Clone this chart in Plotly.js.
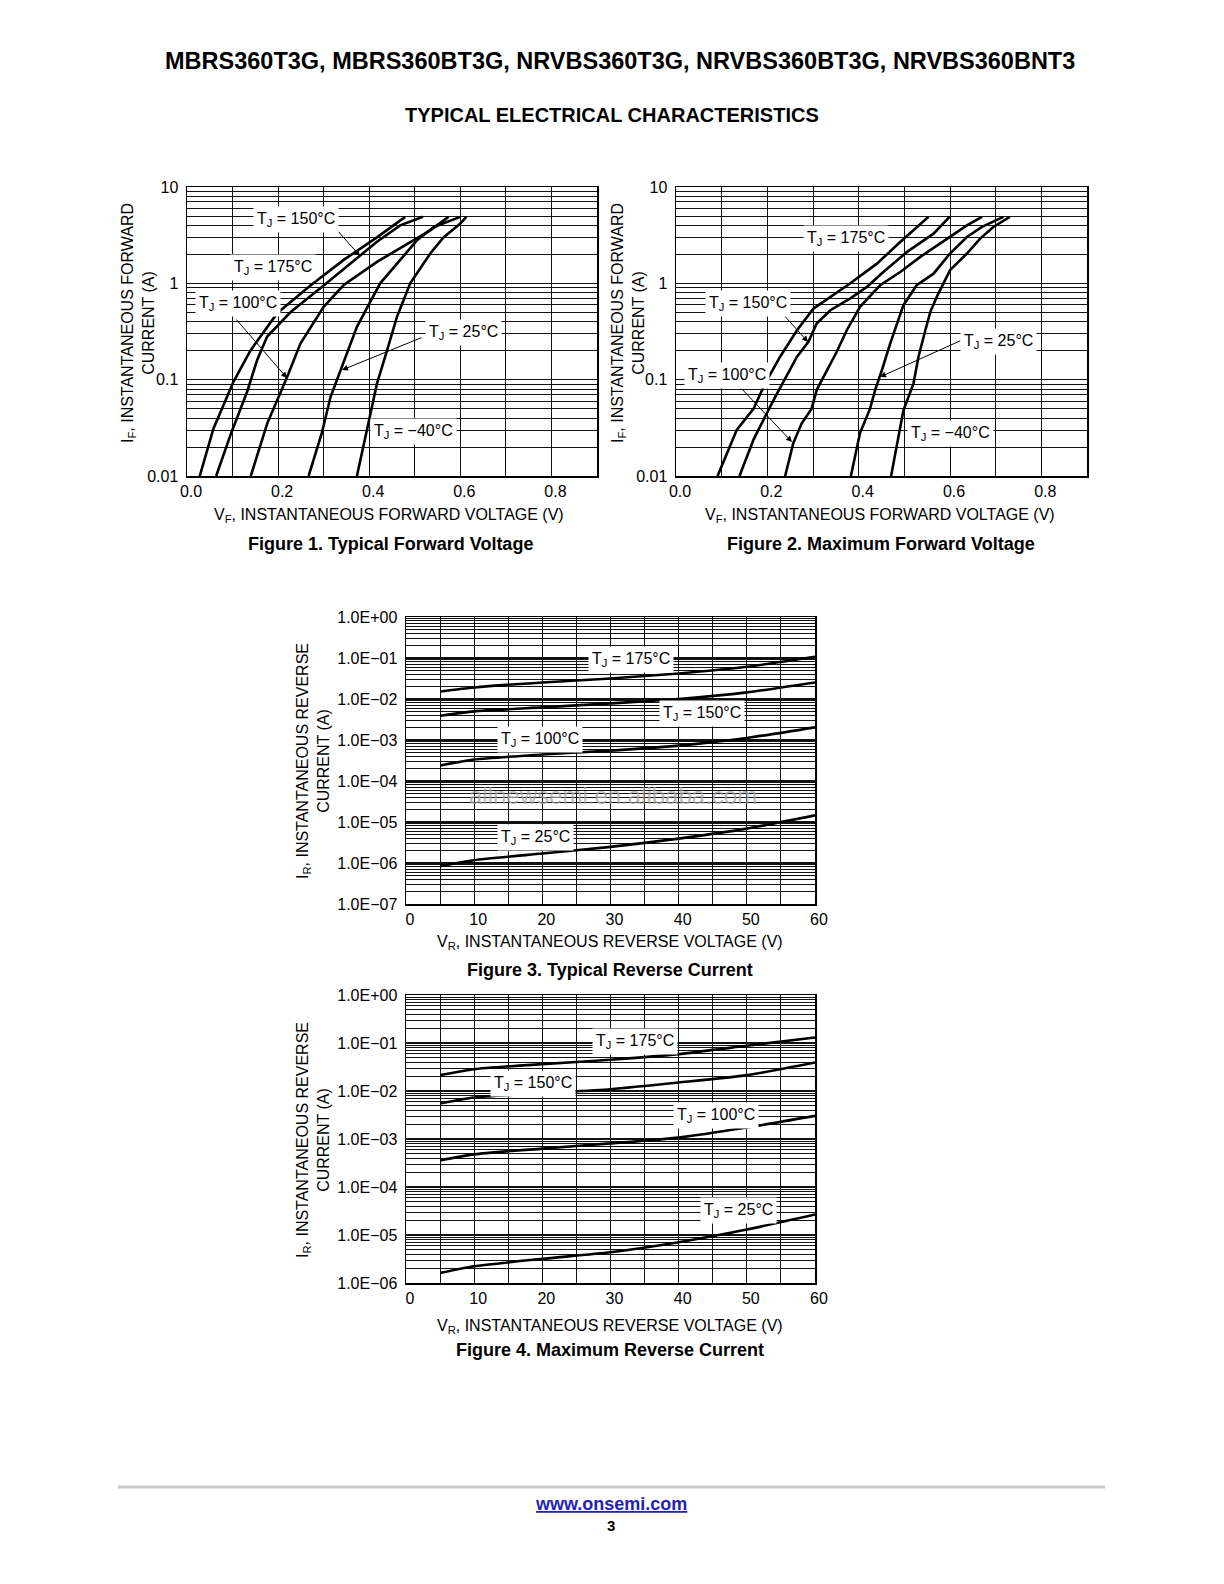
<!DOCTYPE html>
<html>
<head>
<meta charset="utf-8">
<script src="https://cdn.plot.ly/plotly-3.0.1.min.js"></script>
<style>
  html, body { margin: 0; padding: 0; background: #fff; }
  #page { width: 1224px; height: 1584px; }
</style>
</head>
<body>
<div id="page"></div>
<script>
// Figure 1 - typical forward voltage (V, A)
var vf175a = [0.028, 0.058, 0.102, 0.139, 0.198, 0.22, 0.271, 0.344, 0.417, 0.479];
var if175a = [0.01, 0.031, 0.095, 0.2, 0.49, 0.6, 0.95, 1.75, 3.0, 4.9];
var vf150a = [0.064, 0.097, 0.132, 0.154, 0.176, 0.227, 0.30, 0.359, 0.417, 0.468, 0.518];
var if150a = [0.01, 0.028, 0.075, 0.16, 0.28, 0.5, 0.95, 1.6, 2.7, 4.0, 4.9];
var vf100a = [0.14, 0.176, 0.22, 0.249, 0.30, 0.344, 0.417, 0.49, 0.534, 0.574];
var if100a = [0.01, 0.035, 0.107, 0.237, 0.57, 0.96, 1.67, 2.7, 3.55, 4.9];
var vf25a = [0.267, 0.296, 0.315, 0.337, 0.373, 0.424, 0.468, 0.505, 0.542, 0.60];
var if25a = [0.01, 0.028, 0.066, 0.126, 0.353, 1.0, 1.73, 2.8, 3.85, 4.9];
var vfm40a = [0.373, 0.395, 0.417, 0.439, 0.461, 0.49, 0.534, 0.563, 0.60, 0.613];
var ifm40a = [0.01, 0.031, 0.091, 0.2, 0.45, 1.0, 2.04, 3.0, 4.17, 4.9];

// Figure 2 - maximum forward voltage
var vf175b = [0.091, 0.133, 0.170, 0.195, 0.228, 0.265, 0.301, 0.345, 0.381, 0.44, 0.491, 0.553];
var if175b = [0.01, 0.030, 0.050, 0.091, 0.173, 0.326, 0.547, 0.752, 0.995, 1.6, 2.69, 4.9];
var vf150b = [0.139, 0.170, 0.199, 0.217, 0.265, 0.29, 0.308, 0.338, 0.381, 0.418, 0.454, 0.506, 0.564, 0.599];
var if150b = [0.01, 0.024, 0.045, 0.066, 0.173, 0.247, 0.383, 0.526, 0.695, 0.918, 1.31, 2.12, 3.28, 4.9];
var vf100b = [0.239, 0.257, 0.275, 0.297, 0.308, 0.352, 0.374, 0.403, 0.447, 0.491, 0.535, 0.593, 0.637, 0.670];
var if100b = [0.01, 0.022, 0.035, 0.050, 0.078, 0.195, 0.326, 0.57, 0.955, 1.31, 1.88, 2.91, 4.0, 4.9];
var vf25b = [0.383, 0.403, 0.425, 0.436, 0.451, 0.469, 0.498, 0.527, 0.564, 0.60, 0.637, 0.670, 0.717];
var if25b = [0.01, 0.028, 0.050, 0.078, 0.126, 0.237, 0.593, 0.955, 1.26, 2.04, 3.03, 3.85, 4.9];
var vfm40b = [0.471, 0.484, 0.498, 0.52, 0.531, 0.546, 0.557, 0.571, 0.60, 0.637, 0.666, 0.695, 0.731];
var ifm40b = [0.01, 0.022, 0.048, 0.091, 0.173, 0.326, 0.506, 0.723, 1.37, 2.04, 2.91, 3.85, 4.9];

// Figures 3 and 4 - reverse current (V, A)
var vr = [5, 10, 20, 30, 40, 50, 60];
var ir175c = [0.0153, 0.0191, 0.0253, 0.0317, 0.0419, 0.0609, 0.107];
var ir150c = [0.0039, 0.005, 0.00625, 0.0078, 0.010, 0.0145, 0.0253];
var ir100c = [2.39e-4, 3.34e-4, 4.42e-4, 5.52e-4, 7.3e-4, 1.12e-3, 2.04e-3];
var ir25c = [8.4e-7, 1.17e-6, 1.7e-6, 2.47e-6, 3.93e-6, 6.9e-6, 1.45e-5];
var ir175d = [0.0214, 0.0285, 0.0363, 0.0447, 0.0586, 0.0875, 0.1306];
var ir150d = [0.00547, 0.0073, 0.009, 0.0109, 0.015, 0.0214, 0.0393];
var ir100d = [3.59e-4, 4.79e-4, 6.3e-4, 8.1e-4, 1.07e-3, 1.73e-3, 3.03e-3];
var ir25d = [1.62e-6, 2.23e-6, 3.18e-6, 4.38e-6, 7.08e-6, 1.3e-5, 2.68e-5];

// tick labels
var fwdTickVals = [0.01, 0.1, 1, 10];
var fwdTickText = ["0.01", "0.1", "1", "10"];
var revTickVals3 = [1e-7, 1e-6, 1e-5, 1e-4, 1e-3, 1e-2, 1e-1, 1];
var revTickText3 = ["1.0E\u221207", "1.0E\u221206", "1.0E\u221205", "1.0E\u221204", "1.0E\u221203", "1.0E\u221202", "1.0E\u221201", "1.0E+00"];
var revTickVals4 = [1e-6, 1e-5, 1e-4, 1e-3, 1e-2, 1e-1, 1];
var revTickText4 = ["1.0E\u221206", "1.0E\u221205", "1.0E\u221204", "1.0E\u221203", "1.0E\u221202", "1.0E\u221201", "1.0E+00"];

var FONT = "Liberation Sans, Arial, Helvetica, sans-serif";
var W = 1224, H = 1584;

function px(x) { return x / W; }
function py(y) { return 1 - y / H; }

function logMinor(lo, hi) {
    var vals = [];
    for (var e = lo; e < hi; e++) {
        for (var k = 2; k <= 9; k++) vals.push(k * Math.pow(10, e));
    }
    return vals;
}

function curve(x, y, xa, ya, smooth) {
    return {
        type: "scatter", mode: "lines", x: x, y: y,
        xaxis: xa, yaxis: ya, hoverinfo: "skip",
        line: { color: "#000", width: 2.6, shape: smooth ? "spline" : "linear", smoothing: 0.6 }
    };
}

var traces = [
    curve(vf175a, if175a, "x", "y"),
    curve(vf150a, if150a, "x", "y"),
    curve(vf100a, if100a, "x", "y"),
    curve(vf25a, if25a, "x", "y"),
    curve(vfm40a, ifm40a, "x", "y"),
    curve(vf175b, if175b, "x2", "y2"),
    curve(vf150b, if150b, "x2", "y2"),
    curve(vf100b, if100b, "x2", "y2"),
    curve(vf25b, if25b, "x2", "y2"),
    curve(vfm40b, ifm40b, "x2", "y2"),
    curve(vr, ir175c, "x3", "y3", true),
    curve(vr, ir150c, "x3", "y3", true),
    curve(vr, ir100c, "x3", "y3", true),
    curve(vr, ir25c, "x3", "y3", true),
    curve(vr, ir175d, "x4", "y4", true),
    curve(vr, ir150d, "x4", "y4", true),
    curve(vr, ir100d, "x4", "y4", true),
    curve(vr, ir25d, "x4", "y4", true)
];

function xAxisFwd(left, right, anchor) {
    return {
        domain: [px(left), px(right)], anchor: anchor,
        range: [0, 0.9], tick0: 0, dtick: 0.2, tickformat: ".1f",
        showgrid: true, gridcolor: "#111", gridwidth: 1,
        minor: { dtick: 0.1, showgrid: true, gridcolor: "#111", gridwidth: 1 },
        showline: true, mirror: true, linecolor: "#000", linewidth: 1.5,
        ticks: "", zeroline: false, ticklabelshift: 4,
        tickfont: { family: FONT, size: 16, color: "#000" }
    };
}

function yAxisLog(top, bottom, anchor, lo, hi, vals, text) {
    return {
        domain: [py(bottom), py(top)], anchor: anchor, type: "log",
        range: [lo, hi], tickmode: "array", tickvals: vals, ticktext: text,
        showgrid: true, gridcolor: "#111", gridwidth: 1.4,
        minor: { tickvals: logMinor(lo, hi), showgrid: true, gridcolor: "#111", gridwidth: 1 },
        showline: true, mirror: true, linecolor: "#000", linewidth: 1.5,
        ticks: "", zeroline: false, ticklabelstandoff: 4,
        tickfont: { family: FONT, size: 16, color: "#000" }
    };
}

function xAxisRev(top, bottom, anchor) {
    return {
        domain: [px(406), px(815)], anchor: anchor,
        range: [0, 60], tickmode: "array", tickvals: [0, 10, 20, 30, 40, 50, 60],
        showgrid: true, gridcolor: "#111", gridwidth: 1,
        minor: { tickvals: [5, 15, 25, 35, 45, 55], showgrid: true, gridcolor: "#111", gridwidth: 1 },
        showline: true, mirror: true, linecolor: "#000", linewidth: 1.5,
        ticks: "", zeroline: false, ticklabelshift: 4,
        tickfont: { family: FONT, size: 16, color: "#000" }
    };
}

function txt(x, y, text, size, opts) {
    var a = {
        xref: "paper", yref: "paper", x: px(x), y: py(y),
        xanchor: "center", yanchor: "middle", showarrow: false,
        text: text, font: { family: FONT, size: size, color: "#000" }
    };
    for (var k in opts) a[k] = opts[k];
    return a;
}

function label(x, y, text) {
    return txt(x, y, text, 16, { bgcolor: "#fff", borderpad: 3 });
}

function arrow(tailX, tailY, tipX, tipY) {
    return {
        xref: "paper", yref: "paper", x: px(tipX), y: py(tipY),
        ax: tailX - tipX, ay: tailY - tipY, text: "",
        showarrow: true, arrowhead: 2, arrowsize: 1.2, arrowwidth: 1, arrowcolor: "#000"
    };
}

var TJ = "T<sub>J</sub> = ";

var annotations = [
    txt(620, 61, "<b>MBRS360T3G, MBRS360BT3G, NRVBS360T3G, NRVBS360BT3G, NRVBS360BNT3</b>", 23.5),
    txt(612, 115, "<b>TYPICAL ELECTRICAL CHARACTERISTICS</b>", 20),

    // Figure 1
    txt(138, 323, "I<sub>F</sub>, INSTANTANEOUS FORWARD<br>CURRENT (A)", 16, { textangle: -90 }),
    txt(389, 515, "V<sub>F</sub>, INSTANTANEOUS FORWARD VOLTAGE (V)", 16),
    txt(390, 544, "<b>Figure 1. Typical Forward Voltage</b>", 18),
    arrow(337, 230, 360, 256),
    arrow(235, 318, 287, 378),
    arrow(423, 337, 342, 370),
    label(296, 220, TJ + "150\u00b0C"),
    label(273, 267, TJ + "175\u00b0C"),
    label(238, 303, TJ + "100\u00b0C"),
    label(463, 333, TJ + "25\u00b0C"),
    label(413, 432, TJ + "\u221240\u00b0C"),

    // Figure 2
    txt(628, 323, "I<sub>F</sub>, INSTANTANEOUS FORWARD<br>CURRENT (A)", 16, { textangle: -90 }),
    txt(880, 515, "V<sub>F</sub>, INSTANTANEOUS FORWARD VOLTAGE (V)", 16),
    txt(881, 544, "<b>Figure 2. Maximum Forward Voltage</b>", 18),
    arrow(782, 313, 808, 342),
    arrow(740, 387, 792, 442),
    arrow(962, 340, 880, 377),
    label(846, 238, TJ + "175\u00b0C"),
    label(748, 303, TJ + "150\u00b0C"),
    label(727, 376, TJ + "100\u00b0C"),
    label(998, 341, TJ + "25\u00b0C"),
    label(950, 433, TJ + "\u221240\u00b0C"),

    // Figure 3
    txt(613, 795, "allnewsemi.en.alibaba.com", 24, { font: { family: FONT, size: 24, color: "rgba(165,165,165,0.75)" } }),
    txt(313, 761, "I<sub>R</sub>, INSTANTANEOUS REVERSE<br>CURRENT (A)", 16, { textangle: -90 }),
    txt(610, 942, "V<sub>R</sub>, INSTANTANEOUS REVERSE VOLTAGE (V)", 16),
    txt(610, 970, "<b>Figure 3. Typical Reverse Current</b>", 18),
    label(631, 659, TJ + "175\u00b0C"),
    label(702, 714, TJ + "150\u00b0C"),
    label(540, 740, TJ + "100\u00b0C"),
    label(535, 837, TJ + "25\u00b0C"),

    // Figure 4
    txt(313, 1140, "I<sub>R</sub>, INSTANTANEOUS REVERSE<br>CURRENT (A)", 16, { textangle: -90 }),
    txt(610, 1326, "V<sub>R</sub>, INSTANTANEOUS REVERSE VOLTAGE (V)", 16),
    txt(610, 1350, "<b>Figure 4. Maximum Reverse Current</b>", 18),
    label(635, 1041, TJ + "175\u00b0C"),
    label(533, 1083, TJ + "150\u00b0C"),
    label(716, 1115, TJ + "100\u00b0C"),
    label(738, 1210, TJ + "25\u00b0C"),

    // footer
    txt(611, 1504, "<b><u>www.onsemi.com</u></b>", 18, { font: { family: FONT, size: 18, color: "#2222b8" } }),
    txt(611, 1525, "<b>3</b>", 15)
];

var layout = {
    width: W, height: H,
    margin: { l: 0, r: 0, t: 0, b: 0 },
    paper_bgcolor: "#fff", plot_bgcolor: "#fff",
    showlegend: false,
    xaxis: xAxisFwd(187, 597, "y"),
    yaxis: yAxisLog(187, 476, "x", -2, 1, fwdTickVals, fwdTickText),
    xaxis2: xAxisFwd(676, 1087, "y2"),
    yaxis2: yAxisLog(187, 476, "x2", -2, 1, fwdTickVals, fwdTickText),
    xaxis3: xAxisRev(617, 904, "y3"),
    yaxis3: yAxisLog(617, 904, "x3", -7, 0, revTickVals3, revTickText3),
    xaxis4: xAxisRev(995, 1283, "y4"),
    yaxis4: yAxisLog(995, 1283, "x4", -6, 0, revTickVals4, revTickText4),
    annotations: annotations,
    shapes: [
        { type: "line", xref: "paper", yref: "paper", x0: px(118), x1: px(1105), y0: py(1487), y1: py(1487),
          line: { color: "#c8c8c8", width: 3 } }
    ]
};

Plotly.newPlot("page", traces, layout, { staticPlot: true, displayModeBar: false });
</script>
</body>
</html>
